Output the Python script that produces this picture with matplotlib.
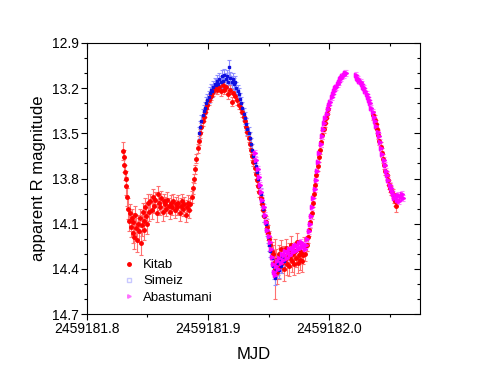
"""Light curve: apparent R magnitude vs MJD for three observatories."""
import matplotlib
matplotlib.use("Agg")
import matplotlib.pyplot as plt
from matplotlib.lines import Line2D
from matplotlib.ticker import MultipleLocator, FormatStrFormatter
import numpy as np

plt.rcParams["font.family"] = ["Liberation Sans", "DejaVu Sans"]

T0 = 2459181.8  # times below are offsets from this MJD

# Kitab
kitab_t = [0.0300, 0.0305, 0.0310, 0.0315, 0.0320, 0.0325, 0.0332, 0.0340, 0.0348, 0.0355,
           0.0362, 0.0370, 0.0378, 0.0385, 0.0392, 0.0400, 0.0408, 0.0415, 0.0422, 0.0430,
           0.0438, 0.0445, 0.0452, 0.0460, 0.0468, 0.0475, 0.0482, 0.0490, 0.0498, 0.0505,
           0.0512, 0.0525, 0.0535, 0.0545, 0.0555, 0.0565, 0.0575, 0.0585, 0.0595, 0.0605,
           0.0615, 0.0625, 0.0635, 0.0645, 0.0655, 0.0665, 0.0675, 0.0685, 0.0695, 0.0705,
           0.0715, 0.0725, 0.0735, 0.0745, 0.0755, 0.0765, 0.0775, 0.0785, 0.0795, 0.0805,
           0.0815, 0.0825, 0.0835, 0.0845, 0.0855, 0.0865, 0.0875, 0.0885, 0.0895, 0.0905,
           0.0915, 0.0925, 0.0935, 0.0945, 0.0955, 0.0965, 0.0975, 0.0985, 0.0995, 0.1005,
           0.1015, 0.1025, 0.1035, 0.1045, 0.1060, 0.1075, 0.1090, 0.1105, 0.1120, 0.1135,
           0.1150, 0.1165, 0.1180, 0.1195, 0.1210, 0.1225, 0.1240, 0.1255, 0.1270, 0.1285,
           0.1295, 0.1305, 0.1315, 0.1325, 0.1335, 0.1345, 0.1355, 0.1365, 0.1375, 0.1385,
           0.1395, 0.1405, 0.1415, 0.1425, 0.1435, 0.1445, 0.1455, 0.1465, 0.1475, 0.1485,
           0.1495, 0.1505, 0.1515, 0.1525, 0.1535, 0.1545, 0.1553, 0.1560, 0.1568, 0.1575,
           0.1583, 0.1590, 0.1598, 0.1605, 0.1613, 0.1620, 0.1628, 0.1635, 0.1643, 0.1650,
           0.1658, 0.1665, 0.1673, 0.1680, 0.1688, 0.1695, 0.1703, 0.1710, 0.1718, 0.1725,
           0.1733, 0.1740, 0.1748, 0.1755, 0.1763, 0.1770, 0.1778, 0.1785, 0.1793, 0.1805,
           0.1815, 0.1825, 0.1835, 0.1845, 0.1855, 0.1865, 0.1875, 0.1885, 0.1895, 0.1905,
           0.1915, 0.1925, 0.1935, 0.1945, 0.1955, 0.1965, 0.1975, 0.1985, 0.1995, 0.2365,
           0.2375, 0.2385, 0.2395, 0.2405, 0.2415, 0.2425, 0.2435, 0.2445, 0.2455, 0.2465,
           0.2475, 0.2485, 0.2495, 0.2505, 0.2515, 0.2525, 0.2535, 0.2545, 0.2555]
kitab_mag = [13.62, 13.66, 13.71, 13.76, 13.80, 13.85, 13.92, 14.00, 14.08, 14.03,
             14.12, 14.06, 14.16, 14.09, 14.19, 14.04, 14.13, 14.21, 14.10, 14.15,
             14.06, 14.23, 14.11, 14.02, 14.08, 14.14, 13.99, 14.05, 14.10, 13.96,
             14.02, 13.95, 14.01, 13.92, 13.98, 13.94, 14.03, 13.90, 13.96, 13.99,
             13.93, 14.02, 13.95, 13.97, 14.00, 13.94, 13.98, 14.02, 13.96, 13.99,
             13.95, 14.01, 13.97, 13.99, 13.96, 14.03, 13.98, 13.95, 14.00, 13.97,
             14.04, 13.99, 13.96, 14.01, 13.97, 13.92, 13.86, 13.80, 13.74, 13.67,
             13.60, 13.55, 13.50, 13.46, 13.42, 13.39, 13.36, 13.33, 13.31, 13.28,
             13.26, 13.25, 13.23, 13.22, 13.20, 13.21, 13.19, 13.22, 13.18, 13.21,
             13.19, 13.24, 13.21, 13.29, 13.23, 13.25, 13.28, 13.31, 13.33, 13.36,
             13.39, 13.42, 13.46, 13.49, 13.53, 13.57, 13.61, 13.65, 13.69, 13.73,
             13.77, 13.81, 13.85, 13.89, 13.93, 13.97, 14.01, 14.05, 14.09, 14.12,
             14.16, 14.20, 14.24, 14.28, 14.30, 14.36, 14.40, 14.34, 14.42, 14.37,
             14.30, 14.39, 14.33, 14.27, 14.36, 14.31, 14.40, 14.34, 14.26, 14.37,
             14.32, 14.29, 14.38, 14.33, 14.24, 14.35, 14.30, 14.37, 14.28, 14.33,
             14.22, 14.36, 14.31, 14.27, 14.34, 14.29, 14.35, 14.31, 14.25, 14.30,
             14.24, 14.19, 14.14, 14.09, 14.03, 13.96, 13.90, 13.84, 13.78, 13.72,
             13.66, 13.61, 13.56, 13.51, 13.47, 13.43, 13.40, 13.37, 13.34, 13.38,
             13.41, 13.44, 13.47, 13.51, 13.55, 13.59, 13.63, 13.67, 13.71, 13.75,
             13.78, 13.81, 13.84, 13.86, 13.88, 13.90, 13.93, 13.95, 13.98]
kitab_err = [0.06, 0.05, 0.05, 0.05, 0.05, 0.06, 0.06, 0.07, 0.07, 0.06,
             0.07, 0.06, 0.07, 0.06, 0.08, 0.06, 0.07, 0.08, 0.06, 0.07,
             0.06, 0.08, 0.07, 0.06, 0.06, 0.07, 0.06, 0.06, 0.07, 0.06,
             0.06, 0.05, 0.06, 0.05, 0.05, 0.05, 0.06, 0.05, 0.05, 0.05,
             0.05, 0.06, 0.05, 0.05, 0.05, 0.05, 0.05, 0.05, 0.05, 0.05,
             0.05, 0.05, 0.05, 0.05, 0.05, 0.05, 0.05, 0.05, 0.05, 0.05,
             0.05, 0.05, 0.05, 0.05, 0.04, 0.04, 0.04, 0.03, 0.03, 0.03,
             0.03, 0.03, 0.03, 0.03, 0.03, 0.03, 0.03, 0.03, 0.03, 0.03,
             0.03, 0.03, 0.03, 0.03, 0.03, 0.03, 0.03, 0.03, 0.03, 0.03,
             0.03, 0.03, 0.03, 0.03, 0.03, 0.03, 0.03, 0.03, 0.03, 0.03,
             0.03, 0.03, 0.03, 0.03, 0.03, 0.03, 0.03, 0.03, 0.03, 0.03,
             0.03, 0.03, 0.03, 0.03, 0.04, 0.04, 0.04, 0.04, 0.04, 0.05,
             0.05, 0.05, 0.05, 0.06, 0.06, 0.07, 0.20, 0.07, 0.08, 0.07,
             0.06, 0.08, 0.07, 0.06, 0.07, 0.06, 0.08, 0.07, 0.06, 0.07,
             0.06, 0.06, 0.07, 0.06, 0.06, 0.07, 0.06, 0.07, 0.06, 0.06,
             0.06, 0.07, 0.06, 0.06, 0.07, 0.06, 0.07, 0.06, 0.06, 0.05,
             0.04, 0.04, 0.04, 0.04, 0.04, 0.03, 0.03, 0.03, 0.03, 0.03,
             0.03, 0.03, 0.03, 0.03, 0.03, 0.03, 0.03, 0.03, 0.03, 0.03,
             0.03, 0.03, 0.03, 0.03, 0.03, 0.03, 0.03, 0.03, 0.03, 0.03,
             0.03, 0.03, 0.03, 0.03, 0.03, 0.03, 0.03, 0.03, 0.04]

# Simeiz
simeiz_t = [0.0925, 0.0935, 0.0945, 0.0955, 0.0965, 0.0975, 0.0985, 0.0995, 0.1005, 0.1015,
            0.1025, 0.1035, 0.1045, 0.1055, 0.1065, 0.1075, 0.1085, 0.1095, 0.1105, 0.1115,
            0.1125, 0.1135, 0.1145, 0.1155, 0.1165, 0.1175, 0.1185, 0.1195, 0.1205, 0.1215,
            0.1225, 0.1235, 0.1245, 0.1255, 0.1265, 0.1275, 0.1285, 0.1295, 0.1305, 0.1315,
            0.1325, 0.1335, 0.1345, 0.1355, 0.1365, 0.1375, 0.1385, 0.1395, 0.1405, 0.1415,
            0.1425, 0.1435, 0.1445, 0.1455, 0.1465, 0.1475, 0.1485, 0.1495, 0.1505, 0.1515,
            0.1525, 0.1535, 0.1545, 0.1555, 0.1565, 0.1575, 0.1585, 0.1595, 0.1605, 0.1615,
            0.1625]
simeiz_mag = [13.50, 13.46, 13.42, 13.38, 13.35, 13.33, 13.30, 13.28, 13.26, 13.23,
              13.21, 13.22, 13.19, 13.17, 13.18, 13.15, 13.17, 13.14, 13.16, 13.12,
              13.15, 13.11, 13.14, 13.12, 13.16, 13.06, 13.13, 13.16, 13.14, 13.17,
              13.16, 13.20, 13.22, 13.24, 13.27, 13.30, 13.33, 13.37, 13.40, 13.44,
              13.47, 13.50, 13.53, 13.57, 13.61, 13.65, 13.69, 13.72, 13.76, 13.80,
              13.85, 13.90, 13.95, 14.00, 14.05, 14.10, 14.14, 14.19, 14.24, 14.28,
              14.33, 14.38, 14.42, 14.46, 14.40, 14.36, 14.41, 14.34, 14.38, 14.32,
              14.35]
simeiz_err = [0.04, 0.04, 0.04, 0.04, 0.04, 0.04, 0.04, 0.04, 0.04, 0.04,
              0.04, 0.04, 0.04, 0.04, 0.04, 0.04, 0.04, 0.04, 0.04, 0.04,
              0.04, 0.04, 0.04, 0.04, 0.04, 0.05, 0.04, 0.04, 0.04, 0.04,
              0.04, 0.04, 0.04, 0.04, 0.04, 0.04, 0.04, 0.04, 0.04, 0.04,
              0.04, 0.04, 0.04, 0.04, 0.04, 0.04, 0.04, 0.04, 0.04, 0.04,
              0.04, 0.04, 0.04, 0.04, 0.04, 0.04, 0.04, 0.04, 0.04, 0.04,
              0.04, 0.04, 0.05, 0.05, 0.05, 0.05, 0.05, 0.05, 0.05, 0.05,
              0.05]

# Abastumani
abas_t = [0.1385, 0.1400, 0.1410, 0.1420, 0.1430, 0.1440, 0.1450, 0.1460, 0.1470, 0.1480,
          0.1490, 0.1500, 0.1510, 0.1520, 0.1530, 0.1540, 0.1548, 0.1555, 0.1562, 0.1570,
          0.1580, 0.1590, 0.1600, 0.1610, 0.1620, 0.1630, 0.1640, 0.1650, 0.1660, 0.1670,
          0.1680, 0.1690, 0.1700, 0.1710, 0.1720, 0.1730, 0.1740, 0.1750, 0.1760, 0.1770,
          0.1780, 0.1790, 0.1800, 0.1810, 0.1820, 0.1830, 0.1840, 0.1850, 0.1860, 0.1870,
          0.1880, 0.1890, 0.1900, 0.1910, 0.1920, 0.1930, 0.1940, 0.1950, 0.1960, 0.1970,
          0.1980, 0.1990, 0.2000, 0.2010, 0.2020, 0.2030, 0.2040, 0.2050, 0.2060, 0.2070,
          0.2080, 0.2090, 0.2100, 0.2110, 0.2120, 0.2130, 0.2140, 0.2220, 0.2230, 0.2240,
          0.2250, 0.2260, 0.2270, 0.2280, 0.2290, 0.2300, 0.2310, 0.2320, 0.2330, 0.2340,
          0.2350, 0.2360, 0.2370, 0.2380, 0.2390, 0.2400, 0.2410, 0.2420, 0.2430, 0.2440,
          0.2450, 0.2460, 0.2470, 0.2480, 0.2490, 0.2500, 0.2510, 0.2520, 0.2530, 0.2540,
          0.2550, 0.2560, 0.2570, 0.2580, 0.2590, 0.2600, 0.2610]
abas_mag = [13.63, 13.68, 13.74, 13.79, 13.84, 13.89, 13.94, 13.99, 14.04, 14.09,
            14.14, 14.18, 14.22, 14.27, 14.32, 14.37, 14.42, 14.44, 14.38, 14.35,
            14.40, 14.33, 14.36, 14.30, 14.34, 14.31, 14.28, 14.33, 14.29, 14.27,
            14.31, 14.26, 14.29, 14.25, 14.28, 14.24, 14.27, 14.23, 14.26, 14.22,
            14.25, 14.24, 14.27, 14.24, 14.20, 14.15, 14.10, 14.05, 13.99, 13.93,
            13.87, 13.81, 13.75, 13.69, 13.63, 13.57, 13.52, 13.47, 13.43, 13.40,
            13.37, 13.34, 13.31, 13.29, 13.26, 13.24, 13.22, 13.20, 13.19, 13.17,
            13.16, 13.14, 13.13, 13.12, 13.11, 13.10, 13.10, 13.11, 13.13, 13.14,
            13.15, 13.16, 13.17, 13.19, 13.20, 13.22, 13.24, 13.26, 13.28, 13.30,
            13.33, 13.36, 13.39, 13.42, 13.45, 13.49, 13.52, 13.56, 13.60, 13.64,
            13.68, 13.71, 13.75, 13.78, 13.81, 13.84, 13.86, 13.88, 13.90, 13.93,
            13.92, 13.94, 13.91, 13.95, 13.92, 13.90, 13.93]
abas_err = [0.02] * len(abas_t)

fig, ax = plt.subplots(figsize=(4.88, 3.77), dpi=100)
fig.subplots_adjust(left=0.178, right=0.861, bottom=0.167, top=0.886)

ax.errorbar(T0 + np.array(kitab_t), kitab_mag, yerr=kitab_err, fmt="o", ms=2.5,
            color="#ff0000", ecolor="#ff7070", elinewidth=0.8, capsize=1.5, capthick=0.8)
ax.errorbar(T0 + np.array(simeiz_t), simeiz_mag, yerr=simeiz_err, fmt="s", ms=1.6,
            color="#1010e0", ecolor="#9090ff", elinewidth=0.8, capsize=1.5, capthick=0.8)
ax.errorbar(T0 + np.array(abas_t), abas_mag, yerr=abas_err, fmt=">", ms=3.0,
            color="#ff00ff", ecolor="#ff80ff", elinewidth=0.8, capsize=1.5, capthick=0.8)

ax.set_xlim(T0, T0 + 0.2752)
ax.set_ylim(14.7, 12.9)
ax.xaxis.set_major_locator(MultipleLocator(0.1))
ax.xaxis.set_minor_locator(MultipleLocator(0.05))
ax.xaxis.set_major_formatter(FormatStrFormatter("%.1f"))
ax.yaxis.set_major_locator(MultipleLocator(0.3))
ax.yaxis.set_minor_locator(MultipleLocator(0.1))
ax.yaxis.set_major_formatter(FormatStrFormatter("%.1f"))
ax.tick_params(which="major", direction="out", length=4, width=0.8, labelsize=10, pad=2)
ax.tick_params(which="minor", direction="out", length=2.5, width=0.8)

# overlay axes sharing limits: mirrored ticks on top/right point inward
ax2 = fig.add_axes(ax.get_position(), sharex=ax, sharey=ax, frameon=False)
ax2.patch.set_visible(False)
ax2.tick_params(which="both", direction="in", bottom=False, left=False, top=True, right=True,
                labelbottom=False, labelleft=False, labeltop=False, labelright=False, width=0.8)
ax2.tick_params(which="major", length=4)
ax2.tick_params(which="minor", length=2.5)

ax.set_xlabel("MJD", fontsize=12, labelpad=8)
ax.set_ylabel("apparent R magnitude", fontsize=12, labelpad=4)

handles = [
    Line2D([], [], ls="none", marker="o", ms=2.5, color="#ff0000"),
    Line2D([], [], ls="none", marker="s", ms=2.5, mfc="none", mec="#c8c8ff"),
    Line2D([], [], ls="none", marker=">", ms=2.5, color="#ff70ff"),
]
ax.legend(handles, ["Kitab", "Simeiz", "Abastumani"], loc="lower left",
          bbox_to_anchor=(0.07, -0.005), frameon=False, fontsize=9.5,
          handlelength=1.0, handletextpad=0.6, labelspacing=0.3)

plt.savefig("out.png", dpi=100)
plt.close()
